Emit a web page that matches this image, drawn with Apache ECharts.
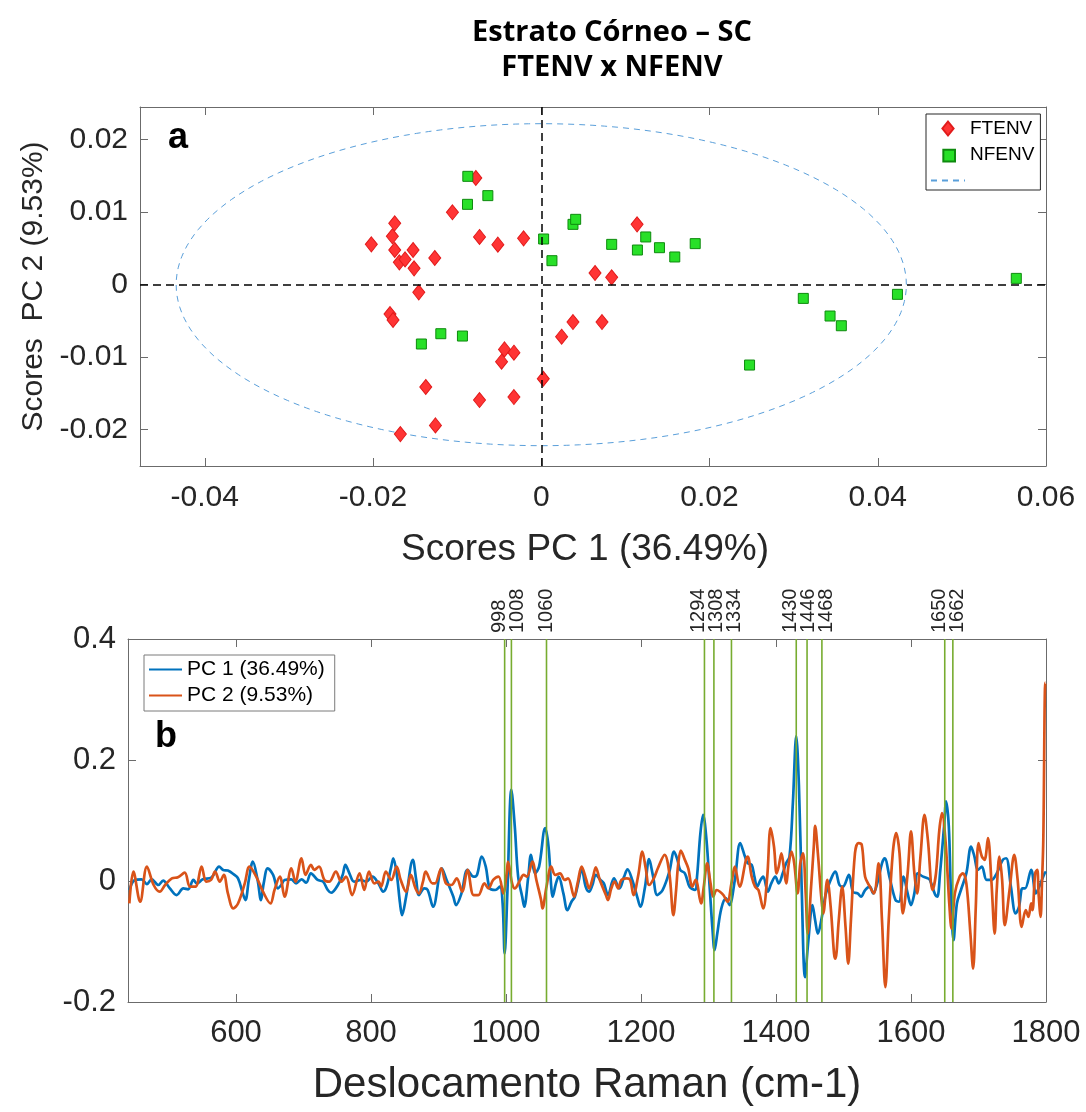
<!DOCTYPE html>
<html><head><meta charset="utf-8">
<script src="https://cdn.jsdelivr.net/npm/echarts@6/dist/echarts.min.js"></script>
<style>html,body{margin:0;padding:0;background:#fff}#c{width:1086px;height:1112px}</style>
</head><body><div id="c"></div>
<script>
// ---------- Panel a: PCA scores ----------
const ftenvX = [-0.00778,-0.01056,-0.01742,-0.0177,-0.0202,-0.01742,-0.01524,-0.01687,-0.01619,-0.01512,-0.01266,-0.00734,-0.00516,-0.0021,-0.01456,-0.01798,-0.01762,-0.00437,-0.00325,-0.00472,-0.01373,-0.00734,-0.00325,-0.01258,-0.01675,0.00024,0.01139,0.00639,0.00837,0.00377,0.00722,0.00242];
const ftenvY = [0.01471,0.00998,0.00846,0.00667,0.00556,0.00478,0.00478,0.00308,0.00349,0.00225,0.00368,0.00658,0.00552,0.00639,-0.00106,-0.00405,-0.00487,-0.00892,-0.00938,-0.01062,-0.01411,-0.01591,-0.01549,-0.0194,-0.0206,-0.01297,0.00832,0.00161,0.00101,-0.00515,-0.00515,-0.00717];
const nfenvX = [-0.00873,-0.00635,-0.00877,0.00028,0.00127,-0.01194,-0.00937,-0.01425,0.00377,0.00409,0.00837,0.01143,0.01242,0.01405,0.01587,0.0183,0.05647,0.04234,0.03115,0.03433,0.03567,0.02476];
const nfenvY = [0.01494,0.01228,0.01108,0.0063,0.00331,-0.00676,-0.00708,-0.00818,0.00832,0.00901,0.00556,0.00478,0.00658,0.0051,0.00382,0.00566,0.00087,-0.00133,-0.00189,-0.00432,-0.00566,-0.01108];
const ellipseRadii = [0.0434, 0.0222];
const scoreXTicks = [-0.04,-0.02,0,0.02,0.04,0.06];
const scoreYTicks = [-0.02,-0.01,0,0.01,0.02];

// ---------- Panel b: loadings ----------
const pc1Wn = [442,450,460,468,475,485,492,502,512,522,529,537,542,551,564,575,581,588,596,603,610,614,619,625,632,637,641,647,655,662,667,
672,682,689,697,704,711,721,729,736,741,751,758,762,768,775,785,793,802,811,818,823,830,833,838,843,846,852,862,867,871,879,884,892,
905,912,922,926,934,943,952,957,964,970,976,984,991,995,998,1002,1008,1013,1018,1024,1027,1033,1037,1043,1049,1058,1063,1067,1069,1074,1078,1085,1091,1097,1102,1108,1112,1118,1123,1128,
1133,1140,1145,1151,1160,1168,1175,1180,1187,1195,1199,1206,1212,1218,1224,1232,1242,1249,1254,1258,1265,1272,1280,1283,1288,1292,1297,1302,1306,1309,1313,1319,1326,1331,1339,1347,1354,
1358,1364,1368,1372,1377,1381,1388,1393,1399,1404,1410,1415,1420,1425,1430,1434,1438,1443,1448,1454,1458,1462,1468,1474,1483,1488,1494,1499,1508,1514,1521,1526,1532,1539,1544,1550,1557,1561,1568,1577,1582,
1589,1595,1600,1605,1610,1618,1625,1628,1636,1639,1643,1649,1652,1656,1659,1663,1668,1674,1682,1689,1694,1699,1705,1712,1719,1727,1736,1741,1748,1755,1760,1765,1769,1778,1785,1790,1798,1800];
const pc1Val = [-0.0149,0.0017,0.0028,-0.005,0.0028,-0.0066,0.0006,-0.0122,-0.0232,-0.0122,-0.0138,0.0017,-0.0039,0.0028,0.0061,0.0238,0.0183,0.0172,0.0116,0.0044,-0.0205,-0.0315,0.0017,0.0321,0.0017,-0.0315,-0.0039,0.021,0.01,-0.0122,-0.0066,
0.0017,0.0028,-0.0039,0.0028,-0.0028,0.0127,0.0017,-0.0011,-0.0149,-0.0194,-0.0066,0.01,0.0266,0.0127,-0.0011,0.0017,-0.0011,0.0072,-0.0039,-0.0177,-0.0094,0.0238,0.0376,0.0127,-0.0371,-0.0564,-0.026,0.0349,0.0017,-0.0232,-0.0122,-0.0149,-0.0426,
0.021,0.0017,-0.026,-0.0398,-0.0205,0.0183,0.0072,0.01,0.0404,0.0238,-0.0122,-0.0149,-0.0094,-0.0371,-0.12,-0.0205,0.151,0.0902,0.0072,-0.026,-0.0426,0.0072,0.0432,0.0127,0.0238,0.0874,0.057,-0.0094,-0.026,-0.0039,0.0072,-0.0205,-0.0481,-0.0343,-0.026,0.0017,0.021,-0.0094,-0.0177,-0.0066,
0.01,0.0017,-0.0039,-0.0232,0.0044,-0.0122,0.0072,0.0194,0.0017,-0.0288,-0.0426,-0.0094,0.036,0.0072,-0.0232,-0.0149,0.0155,0.0487,0.0349,0.0183,0.0127,-0.0094,-0.0149,0.0072,0.0791,0.1095,0.068,-0.0149,-0.0813,-0.1145,-0.0869,-0.0454,-0.0288,-0.0398,0.0017,0.0625,0.0404,
0.0293,0.0266,0.0072,-0.0094,0.0017,0.0072,-0.0177,-0.0039,0.0072,-0.0039,0.0127,0.0293,0.0404,0.1289,0.2396,0.1566,-0.0094,-0.1588,-0.0979,-0.0398,-0.0647,-0.0869,-0.0592,-0.0205,0.0072,0.0155,-0.0066,-0.0094,0.01,-0.0177,-0.0205,-0.026,-0.0149,-0.0094,-0.0205,-0.0039,0.0293,0.0376,0.0072,-0.0315,-0.0343,
0.0072,-0.0205,-0.0398,-0.0205,0.0127,0.0072,0.0044,0.0017,-0.0232,-0.026,0.0127,0.0902,0.1317,0.0902,-0.0149,-0.0979,-0.0371,-0.0149,0.0127,0.057,0.0404,0.0183,0.0238,0.0017,0.0017,0.0127,0.0349,0.0376,-0.0094,-0.0537,-0.0426,-0.0122,-0.0122,0.0183,-0.0205,-0.0094,0.0127,0.0155];
const pc2Wn = [442,448,458,468,478,487,495,505,514,524,532,540,549,556,563,569,576,582,588,596,603,613,620,630,640,651,657,665,
672,682,688,697,703,711,716,723,731,738,748,756,763,772,783,790,797,805,811,815,822,830,838,844,852,859,866,871,877,881,891,
895,904,911,919,927,935,943,952,959,968,974,981,989,996,1001,1003,1009,1013,1021,1026,1031,1039,1045,1052,1054,1060,1067,1073,1080,1087,1092,1101,1106,1112,1119,1123,1129,
1133,1139,1148,1151,1156,1161,1166,1171,1179,1184,1189,1196,1202,1207,1212,1219,1225,1235,1242,1248,1252,1255,1259,1265,1270,1276,1281,1289,1293,1298,1303,1307,1312,1317,1322,1328,1334,1339,1346,1356,
1358,1364,1369,1374,1381,1387,1392,1397,1401,1404,1408,1412,1415,1419,1423,1427,1432,1436,1440,1444,1447,1452,1456,1458,1462,1467,1470,1476,1481,1486,1488,1493,1498,1503,1507,1511,1517,1522,1527,1532,1539,1545,1552,1557,1562,1567,1573,1578,1583,
1588,1595,1600,1605,1609,1614,1620,1625,1632,1637,1642,1646,1651,1657,1660,1665,1672,1677,1682,1688,1692,1696,1700,1705,1709,1714,1719,1724,1727,1731,1735,1739,1746,1753,1758,1764,1770,1774,1778,1780,1784,1787,1789,1792,1794,1796,1799,1800];
const pc2Val = [-0.0371,0.0155,-0.0343,0.0238,-0.0066,-0.0177,-0.0066,0.0044,0.0061,0.0138,-0.0094,-0.0094,0.0238,-0.0011,0.0017,0.0155,-0.0011,0.01,-0.0205,-0.0454,-0.0371,-0.0039,0.0238,0.0072,-0.0177,-0.0371,-0.0149,0.0072,
-0.026,0.021,-0.0011,0.0376,0.01,0.0266,0.0183,0.0238,0.0017,-0.0011,0.0155,-0.0011,0.0072,-0.0232,0.0127,-0.0149,0.0155,-0.0039,-0.0011,-0.0094,0.0155,0.0017,0.0238,0.0017,-0.0177,0.01,-0.0122,-0.0205,-0.0011,0.0155,-0.0039,
-0.0039,0.021,-0.0039,-0.0066,0.0044,-0.0177,0.0183,-0.0232,-0.0232,-0.0039,-0.0122,0.0017,0.0072,-0.0205,0.0127,0.0321,-0.0039,-0.0122,0.0017,0.01,0.0072,0.0321,0.0017,-0.0315,-0.0454,-0.0094,0.0238,0.01,0.0127,0.0017,0.0044,-0.026,-0.0039,0.0238,0.0017,-0.0122,0.0072,
0.0227,0.0017,-0.0232,-0.0315,-0.0122,-0.0011,-0.0122,0.0017,0.0044,0.0017,-0.0232,0.01,0.0487,0.021,-0.0066,0.0044,0.021,0.0432,0.0127,-0.0564,-0.0149,0.0266,0.0503,0.0349,0.021,-0.0094,0.0017,-0.0371,-0.0094,0.0293,-0.0039,-0.026,-0.0149,-0.0177,-0.0232,-0.0343,-0.0039,0.0238,-0.0094,0.0376,
0.0404,0.0072,-0.0094,-0.0149,-0.0454,0.0072,0.0874,0.057,0.0127,0.0238,0.0459,0.0183,-0.0039,0.0293,0.0487,0.0293,-0.0205,0.0293,0.0459,-0.0205,-0.0869,-0.0094,0.057,0.0913,0.0459,-0.026,-0.0537,0.0017,-0.0426,-0.12,-0.1284,-0.0647,-0.0094,-0.0758,-0.1367,-0.0647,0.0459,0.0625,0.0598,0.0072,-0.0094,-0.0205,0.0293,-0.0647,-0.1754,-0.0647,0.0459,0.0791,0.0459,
-0.0537,0.0127,0.0819,0.0127,-0.0205,0.0404,0.1095,0.068,-0.0149,0.0127,0.0846,0.1123,0.068,-0.0426,-0.0786,-0.0205,0.0072,0.0127,-0.0039,-0.0869,-0.145,-0.0426,0.0625,0.0404,0.0349,0.0708,0.0017,-0.0869,-0.0149,0.0404,0.0017,-0.073,-0.0149,0.0432,0.0017,-0.0758,-0.0481,-0.0592,-0.0371,-0.0481,0.0127,0.0183,-0.0205,-0.0592,-0.0039,0.068,0.3281,0.328];
const peakBands = [998,1008,1060,1294,1308,1334,1430,1446,1468,1650,1662];
const ramanXTicks = [600,800,1000,1200,1400,1600,1800];
const ramanYTicks = [-0.2,0,0.2,0.4];

// ---------- build ----------
const FONT = '"Liberation Sans", Arial, sans-serif';
const AX = '#262626';
const BOX = '#6b6b6b';
const HIDDEN_SYMBOL = { color: 'rgba(0,0,0,0)', borderColor: 'rgba(0,0,0,0)', borderWidth: 0, opacity: 0 };
const zip = (a, b) => a.map((v, i) => [v, b[i]]);
const ellipsePts = [];
for (let k = 0; k <= 360; k += 2) {
  const t = k * Math.PI / 180;
  ellipsePts.push([ellipseRadii[0] * Math.cos(t), ellipseRadii[1] * Math.sin(t)]);
}
function spreadLabels(xs, gap) {
  const groups = []; let cur = [0];
  for (let i = 1; i < xs.length; i++) {
    if (xs[i] - xs[i - 1] < gap) cur.push(i); else { groups.push(cur); cur = [i]; }
  }
  groups.push(cur);
  const out = xs.slice();
  groups.forEach(g => {
    const m = g.reduce((s, i) => s + xs[i], 0) / g.length;
    g.forEach((i, k) => { out[i] = m + (k - (g.length - 1) / 2) * gap; });
  });
  return out;
}
function boxAxis(grid, pos, min, max, ticks, interval) {
  const a = {
    type: 'value', gridIndex: grid, position: pos, min: min, max: max,
    axisLine: { show: true, onZero: false, lineStyle: { color: BOX, width: 1 } },
    axisTick: { show: true, inside: true, length: 8, lineStyle: { color: BOX } },
    axisLabel: { show: false },
    splitLine: { show: false }
  };
  if (interval) a.interval = interval; else a.axisTick.customValues = ticks;
  return a;
}
const chart = echarts.init(document.getElementById('c'), null, { renderer: 'canvas' });
const option = {
  backgroundColor: '#fff',
  animation: false,
  title: [
    { text: 'Estrato Córneo – SC\nFTENV x NFENV', left: 607, top: 10, textAlign: 'center',
      textStyle: { fontFamily: '"Liberation Sans Narrow", "Open Sans", sans-serif', fontWeight: 'bold', fontSize: 29, lineHeight: 35, color: '#000' } },
    { text: 'a', left: 163, top: 115, textStyle: { fontFamily: FONT, fontWeight: 'bold', fontSize: 36, color: '#000' } },
    { text: 'b', left: 150, top: 714, textStyle: { fontFamily: FONT, fontWeight: 'bold', fontSize: 36, color: '#000' } }
  ],
  legend: [
    { orient: 'vertical', left: 926, top: 114, padding: [5, 6, 0, 4], itemWidth: 34, itemHeight: 14, itemGap: 7,
      borderColor: AX, borderWidth: 1, backgroundColor: '#fff',
      textStyle: { fontFamily: FONT, fontSize: 19, color: '#000' },
      data: [
        { name: 'FTENV', icon: 'path://M0,-10L8,0L0,10L-8,0Z' },
        { name: 'NFENV', icon: 'path://M-7,-7M-5,-5L5,-5L5,5L-5,5Z' },
        { name: ' ', itemStyle: HIDDEN_SYMBOL }
      ] },
    { orient: 'vertical', left: 144, top: 655, padding: [4, 10, 5, 4], itemWidth: 33, itemHeight: 14, itemGap: 5,
      borderColor: '#7a7a7a', borderWidth: 1, backgroundColor: '#fff',
      textStyle: { fontFamily: FONT, fontSize: 21, color: '#000' },
      data: [
        { name: 'PC 1 (36.49%)', itemStyle: HIDDEN_SYMBOL },
        { name: 'PC 2 (9.53%)', itemStyle: HIDDEN_SYMBOL }
      ] }
  ],
  grid: [
    { left: 140, top: 107, width: 906, height: 359 },
    { left: 128, top: 639, width: 918, height: 363 }
  ],
  xAxis: [
    { type: 'value', gridIndex: 0, position: 'bottom', min: -0.0477, max: 0.06,
      name: 'Scores PC 1 (36.49%)', nameLocation: 'middle', nameGap: 65,
      nameTextStyle: { fontFamily: FONT, fontSize: 37, color: AX, padding: [0, 16, 0, 0] },
      axisLine: { show: true, onZero: false, lineStyle: { color: BOX } },
      axisTick: { show: true, inside: true, length: 8, customValues: scoreXTicks, lineStyle: { color: BOX } },
      axisLabel: { customValues: scoreXTicks, fontFamily: FONT, fontSize: 30, color: AX, margin: 17 },
      splitLine: { show: false } },
    boxAxis(0, 'top', -0.0477, 0.06, scoreXTicks),
    { type: 'value', gridIndex: 1, position: 'bottom', min: 440, max: 1800,
      name: 'Deslocamento Raman (cm-1)', nameLocation: 'middle', nameGap: 62,
      nameTextStyle: { fontFamily: FONT, fontSize: 42, color: AX },
      axisLine: { show: true, onZero: false, lineStyle: { color: BOX } },
      axisTick: { show: true, inside: true, length: 8, customValues: ramanXTicks, lineStyle: { color: BOX } },
      axisLabel: { customValues: ramanXTicks, fontFamily: FONT, fontSize: 31, color: AX, margin: 16,
        formatter: v => String(v) },
      splitLine: { show: false } },
    boxAxis(1, 'top', 440, 1800, ramanXTicks)
  ],
  yAxis: [
    { type: 'value', gridIndex: 0, position: 'left', min: -0.025, max: 0.0245,
      name: 'Scores  PC 2 (9.53%)', nameLocation: 'middle', nameGap: 88, nameRotate: 90,
      nameTextStyle: { fontFamily: FONT, fontSize: 30, color: AX },
      axisLine: { show: true, onZero: false, lineStyle: { color: BOX } },
      axisTick: { show: true, inside: true, length: 8, customValues: scoreYTicks, lineStyle: { color: BOX } },
      axisLabel: { customValues: scoreYTicks, fontFamily: FONT, fontSize: 30, color: AX, margin: 12 },
      splitLine: { show: false } },
    boxAxis(0, 'right', -0.025, 0.0245, scoreYTicks),
    { type: 'value', gridIndex: 1, position: 'left', min: -0.2, max: 0.4, interval: 0.2,
      axisLine: { show: true, onZero: false, lineStyle: { color: BOX } },
      axisTick: { show: true, inside: true, length: 8, lineStyle: { color: BOX } },
      axisLabel: { fontFamily: FONT, fontSize: 31, color: AX, margin: 12 },
      splitLine: { show: false } },
    boxAxis(1, 'right', -0.2, 0.4, ramanYTicks, 0.2)
  ],
  series: [
    { name: ' ', type: 'line', xAxisIndex: 0, yAxisIndex: 0, data: ellipsePts, symbol: 'none', smooth: false,
      lineStyle: { color: '#5A9FDA', width: 1, type: [6, 5] }, itemStyle: { color: '#5A9FDA' }, silent: true, z: 1,
      markLine: { silent: true, symbol: ['none', 'none'], label: { show: false },
        lineStyle: { color: '#000', width: 1.5, type: [8, 5] },
        data: [{ xAxis: 0 }, { yAxis: 0 }] } },
    { name: 'FTENV', type: 'scatter', xAxisIndex: 0, yAxisIndex: 0, data: zip(ftenvX, ftenvY),
      symbol: 'diamond', symbolSize: [12, 15],
      itemStyle: { color: '#FF3434', borderColor: '#E11B1B', borderWidth: 1, opacity: 1 }, z: 3 },
    { name: 'NFENV', type: 'scatter', xAxisIndex: 0, yAxisIndex: 0, data: zip(nfenvX, nfenvY),
      symbol: 'rect', symbolSize: 10,
      itemStyle: { color: '#28E028', borderColor: '#0E8A0E', borderWidth: 1, opacity: 1 }, z: 4 },
    { name: 'PC 1 (36.49%)', type: 'line', xAxisIndex: 2, yAxisIndex: 2, data: zip(pc1Wn, pc1Val),
      symbol: 'none', smooth: 0.35, lineStyle: { color: '#0072BD', width: 2.7 }, itemStyle: { color: '#0072BD' }, z: 2 },
    { name: 'PC 2 (9.53%)', type: 'line', xAxisIndex: 2, yAxisIndex: 2, data: zip(pc2Wn, pc2Val),
      symbol: 'none', smooth: 0.35, lineStyle: { color: '#D95319', width: 2.7 }, itemStyle: { color: '#D95319' }, z: 3 },
    { name: 'bands', type: 'custom', xAxisIndex: 2, yAxisIndex: 2, clip: false, silent: true, z: 5,
      data: peakBands.map(w => [w, 0.4]),
      renderItem: function (params, api) {
        const i = params.dataIndex;
        const w = api.value(0);
        const top = api.coord([w, 0.4]);
        const bot = api.coord([w, -0.2]);
        const xs = peakBands.map(v => api.coord([v, 0.4])[0]);
        const lx = spreadLabels(xs, 18)[i];
        return { type: 'group', children: [
          { type: 'line', shape: { x1: top[0], y1: top[1], x2: bot[0], y2: bot[1] },
            style: { stroke: '#77AC30', lineWidth: 1.6 } },
          { type: 'text', x: lx, y: top[1] - 6, rotation: Math.PI / 2,
            style: { text: String(w), fill: AX, font: '20px ' + FONT, align: 'left', verticalAlign: 'middle' } }
        ] };
      } }
  ]
};
chart.setOption(option);
</script>
</body></html>
